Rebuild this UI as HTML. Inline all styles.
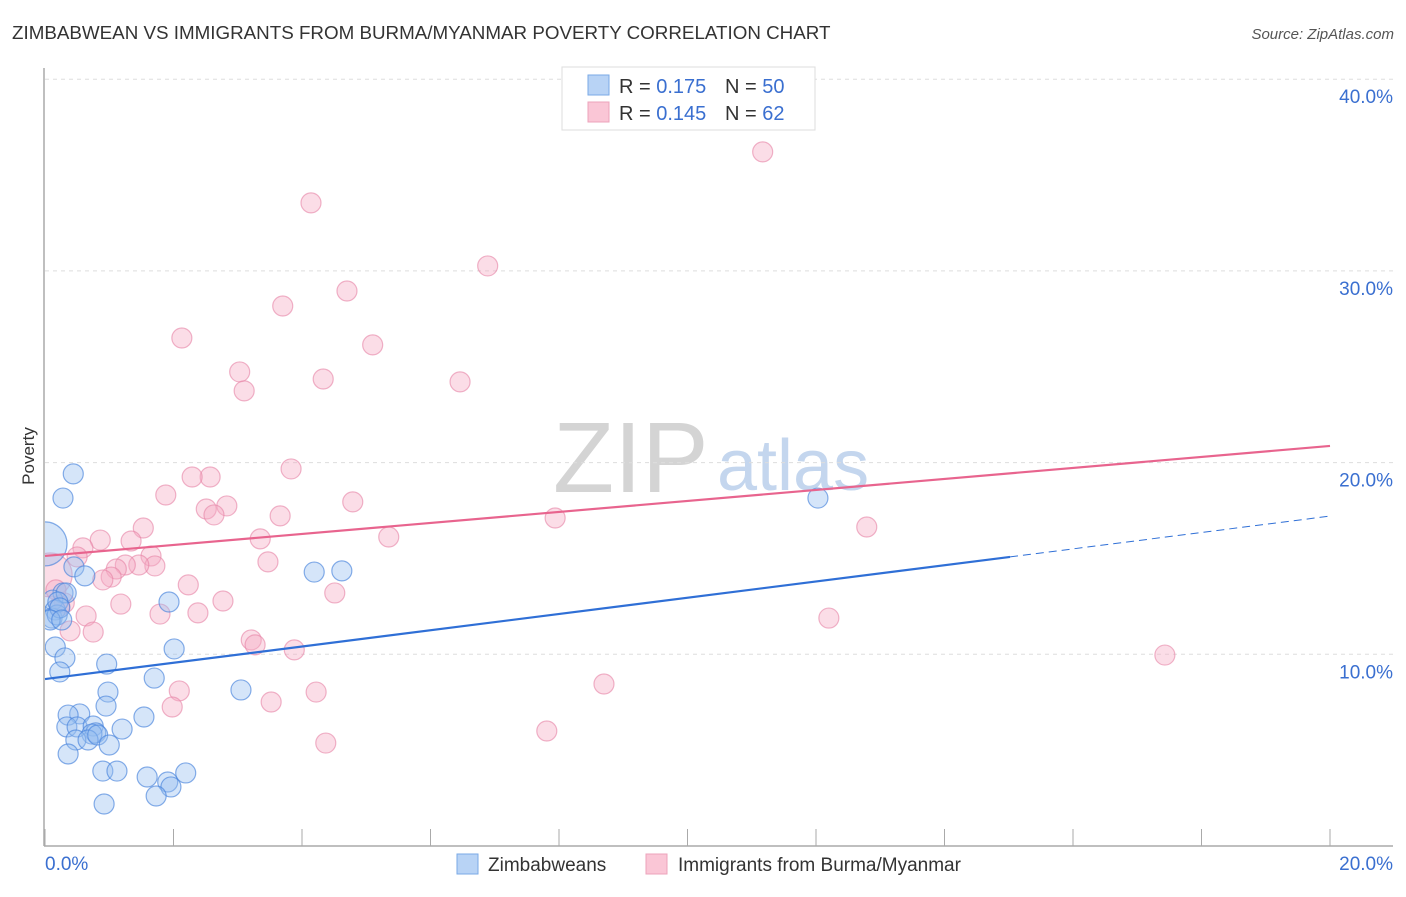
<!DOCTYPE html>
<html><head><meta charset="utf-8"><style>
html,body{margin:0;padding:0;background:#fff;}
body{width:1406px;height:892px;overflow:hidden;font-family:"Liberation Sans",sans-serif;}
svg text{font-family:"Liberation Sans",sans-serif;}
</style></head><body>
<svg id="chart" width="1406" height="892" viewBox="0 0 1406 892" xmlns="http://www.w3.org/2000/svg">
<defs><clipPath id="plotclip"><rect x="45" y="60" width="1360" height="786"/></clipPath></defs>
<text x="12" y="39" font-size="18.8" fill="#333">ZIMBABWEAN VS IMMIGRANTS FROM BURMA/MYANMAR POVERTY CORRELATION CHART</text>
<text x="1394" y="39" font-size="15" fill="#555" font-style="italic" text-anchor="end">Source: ZipAtlas.com</text>
<g>
<text x="553" y="492" font-size="100" font-family="Liberation Serif, serif" fill="#d4d4d4">ZIP</text>
<text x="717" y="490" font-size="72" fill="#c4d6ee">atlas</text>
</g>
<g id="grid"></g>
<g id="axes"></g>
<g id="marks" clip-path="url(#plotclip)"></g>
<g id="lines"></g>
<text transform="translate(34,456) rotate(-90)" font-size="17" fill="#333" text-anchor="middle">Poverty</text>
<g>
<rect x="562" y="67" width="253" height="63" fill="#fff" stroke="#ddd"/>
<rect x="588" y="75" width="21" height="20" fill="#b8d3f5" stroke="#7aaae6"/>
<rect x="588" y="102" width="21" height="20" fill="#fac6d6" stroke="#eca3bb"/>
<text x="619" y="93" font-size="20" fill="#333">R = <tspan fill="#3a6fd0">0.175</tspan><tspan x="725">N = </tspan><tspan fill="#3a6fd0">50</tspan></text>
<text x="619" y="120" font-size="20" fill="#333">R = <tspan fill="#3a6fd0">0.145</tspan><tspan x="725">N = </tspan><tspan fill="#3a6fd0"> 62</tspan></text>
</g>
<g>
<rect x="457" y="854" width="21" height="20" fill="#b8d3f5" stroke="#7aaae6"/>
<text x="488" y="871" font-size="19" fill="#333">Zimbabweans</text>
<rect x="646" y="854" width="21" height="20" fill="#fac6d6" stroke="#eca3bb"/>
<text x="678" y="871" font-size="19" fill="#333">Immigrants from Burma/Myanmar</text>
</g>
</svg>
<script>
const yTicks=[10,20,30,40];
const yTickLabels=["10.0%","20.0%","30.0%","40.0%"];
const xEdgeLabels=["0.0%","20.0%"];
const blueX=[0.44,0.28,0.00,0.45,0.62,0.28,0.12,0.16,0.11,0.19,0.33,0.16,0.31,0.23,0.96,1.93,2.01,1.70,3.05,0.98,0.95,1.54,0.54,0.36,0.34,0.50,0.75,0.79,0.73,0.48,0.67,0.82,1.00,1.20,0.36,0.90,1.12,1.59,1.91,1.96,1.73,2.19,0.92,4.19,4.62,12.03,0.20,0.23,0.08,0.26];
const blueY=[19.41,18.15,15.76,14.56,14.09,13.20,12.83,12.31,11.89,12.05,13.20,10.38,9.81,9.08,9.49,12.73,10.28,8.76,8.14,8.03,7.30,6.73,6.89,6.83,6.21,6.21,6.26,5.90,5.84,5.53,5.53,5.79,5.27,6.10,4.80,3.91,3.91,3.60,3.34,3.08,2.61,3.81,2.19,14.29,14.35,18.15,12.73,12.42,11.79,11.79];
const blueBig=[2];
const pinkX=[11.17,4.14,6.89,4.70,3.70,2.13,5.10,3.03,4.33,6.46,3.10,3.83,2.57,2.29,1.88,4.79,2.51,2.83,2.63,3.66,7.94,12.79,1.53,3.35,0.86,5.35,1.34,0.59,0.50,1.65,1.71,1.46,1.25,3.47,1.11,1.03,0.90,2.23,4.51,1.18,2.77,0.30,0.23,1.79,2.38,0.64,0.39,0.75,12.20,3.21,3.27,3.88,17.43,8.70,2.09,4.22,1.98,3.52,4.37,7.81,0.08,0.17];
const pinkY=[36.21,33.55,30.26,28.95,28.17,26.50,26.14,24.73,24.36,24.21,23.74,19.67,19.25,19.25,18.31,17.95,17.58,17.74,17.27,17.22,17.11,16.64,16.59,16.02,15.96,16.12,15.91,15.55,15.08,15.13,14.61,14.66,14.66,14.82,14.45,14.03,13.88,13.62,13.20,12.62,12.78,12.68,12.52,12.10,12.16,12.00,11.22,11.16,11.89,10.75,10.49,10.23,9.96,8.45,8.09,8.03,7.25,7.51,5.37,6.00,14.14,13.36];
const pinkBig=[60];
const blueTrend=[8.71,15.08,17.21];
const pinkTrend=[15.13,20.87];
const NS="http://www.w3.org/2000/svg";
const X0=45,X1=1330,Y0=846,YS=19.17;
function sx(v){return X0+(X1-X0)*v/20;}
function sy(v){return Y0-v*YS;}
function mk(tag,attrs,parent){const e=document.createElementNS(NS,tag);for(const k in attrs)e.setAttribute(k,attrs[k]);document.getElementById(parent).appendChild(e);return e;}
yTicks.forEach((t,i)=>{
 const l=mk('line',{x1:45,x2:1393,y1:sy(t),y2:sy(t),stroke:'#ddd','stroke-dasharray':'4,4'},'grid');
 
 
 const tx=mk('text',{x:1393,y:sy(t)+24,'font-size':19,fill:'#3a6fd0','text-anchor':'end'},'grid');
 tx.textContent=yTickLabels[i];
 
 
});
const ax=mk('line',{x1:44,x2:44,y1:68,y2:846,stroke:'#aaa','stroke-width':1.5},'axes');


const bx=mk('line',{x1:44,x2:1393,y1:846,y2:846,stroke:'#aaa','stroke-width':1.5},'axes');


for(let i=0;i<=10;i++){
 const t=mk('line',{x1:sx(i*2),x2:sx(i*2),y1:829,y2:846,stroke:'#aaa'},'axes');
 
 
}
const xl0=mk('text',{x:45,y:870,'font-size':19,fill:'#3a6fd0'},'axes');xl0.textContent=xEdgeLabels[0];


const xl1=mk('text',{x:1393,y:870,'font-size':19,fill:'#3a6fd0','text-anchor':'end'},'axes');xl1.textContent=xEdgeLabels[1];


pinkX.forEach((x,i)=>{
 const c=mk('circle',{cx:sx(x),cy:sy(pinkY[i]),r:pinkBig.includes(i)?22:10,fill:'rgba(246,170,196,0.4)',stroke:'rgba(230,130,165,0.6)','stroke-width':1.2},'marks');
 
 
});
blueX.forEach((x,i)=>{
 const c=mk('circle',{cx:sx(x),cy:sy(blueY[i]),r:blueBig.includes(i)?22:10,fill:'rgba(150,190,240,0.4)',stroke:'rgba(70,130,220,0.65)','stroke-width':1.2},'marks');
 
 
});
const pl=mk('line',{x1:sx(0),y1:sy(pinkTrend[0]),x2:sx(20),y2:sy(pinkTrend[1]),stroke:'#e8648e','stroke-width':2.2},'lines');


const bl=mk('line',{x1:sx(0),y1:sy(blueTrend[0]),x2:sx(15.02),y2:sy(blueTrend[1]),stroke:'#2f6fd6','stroke-width':2.2},'lines');


const bd=mk('line',{x1:sx(15.02),y1:sy(blueTrend[1]),x2:sx(20),y2:sy(blueTrend[2]),stroke:'#2f6fd6','stroke-width':1,'stroke-dasharray':'8,5'},'lines');


</script>
</body></html>
